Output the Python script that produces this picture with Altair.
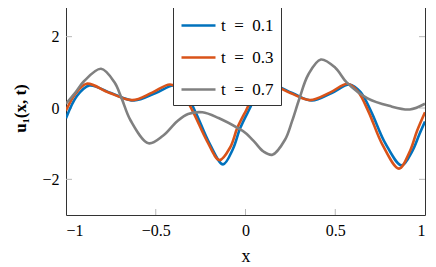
import altair as alt
import pandas as pd

FONT = "Liberation Serif"

# series labels and colours
series_names = ["t = 0.1", "t = 0.3", "t = 0.7"]
series_colors = ["#0072BD", "#D95319", "#808080"]

# t = 0.1 (blue)
x_blue = [-1.0, -0.94, -0.87, -0.75, -0.62, -0.5, -0.40, -0.34, -0.28, -0.20, -0.125,
          -0.07, -0.03, 0.02, 0.065, 0.15, 0.26, 0.37, 0.48, 0.58, 0.64, 0.70, 0.78,
          0.87, 0.93, 0.97, 1.0]
y_blue = [-0.29, 0.33, 0.63, 0.42, 0.21, 0.42, 0.63, 0.45, -0.10, -1.00, -1.58,
          -1.15, -0.57, -0.05, 0.38, 0.63, 0.42, 0.21, 0.42, 0.66, 0.45, -0.10, -1.00,
          -1.61, -1.20, -0.72, -0.38]

# t = 0.3 (orange)
x_orange = [-1.0, -0.95, -0.885, -0.76, -0.63, -0.52, -0.42, -0.36, -0.295, -0.215, -0.145,
            -0.085, -0.045, 0.005, 0.05, 0.135, 0.25, 0.36, 0.47, 0.57, 0.625, 0.685, 0.765,
            0.855, 0.915, 0.955, 1.0]
y_orange = [-0.07, 0.38, 0.68, 0.43, 0.22, 0.43, 0.66, 0.47, -0.08, -0.92, -1.46,
            -1.10, -0.55, -0.05, 0.38, 0.64, 0.42, 0.22, 0.43, 0.68, 0.47, -0.10, -1.05,
            -1.70, -1.22, -0.65, -0.12]

# t = 0.7 (grey)
x_gray = [-1.0, -0.95, -0.90, -0.805, -0.73, -0.69, -0.64, -0.54, -0.46, -0.38, -0.32,
          -0.24, -0.15, -0.04, 0.0, 0.05, 0.10, 0.15, 0.22, 0.26, 0.30, 0.35, 0.42, 0.50,
          0.565, 0.68, 0.80, 0.915, 1.0]
y_gray = [0.12, 0.42, 0.75, 1.10, 0.72, 0.27, -0.35, -0.99, -0.78, -0.37, -0.17,
          -0.12, -0.28, -0.57, -0.70, -0.95, -1.22, -1.31, -0.89, -0.36, 0.26, 0.94, 1.36, 1.13,
          0.71, 0.27, 0.06, -0.04, 0.12]

x_ticks = [-1, -0.5, 0, 0.5, 1]
y_ticks = [-2, 0, 2]

rows = []
for name, xs, ys in zip(series_names, [x_blue, x_orange, x_gray], [y_blue, y_orange, y_gray]):
    for i, (xv, yv) in enumerate(zip(xs, ys)):
        rows.append({"x": xv, "y": yv, "series": name, "i": i})
df = pd.DataFrame(rows)

W, H = 359, 214
TL = 6
TICK_COLOR = "#b8b8b8"

xscale = alt.Scale(domain=[-1, 1], nice=False, zero=False)
yscale = alt.Scale(domain=[-3, 3], nice=False, zero=False)

x_axis = alt.Axis(values=x_ticks, format="~g", ticks=False, domain=False, grid=False,
                  labelFont=FONT, labelFontSize=16, labelColor="#000",
                  labelPadding=7, title="x", titleFont=FONT, titleFontSize=18,
                  titleFontWeight="normal", titleColor="#000", titlePadding=9)
y_axis = alt.Axis(values=y_ticks, format="~g", ticks=False, domain=False, grid=False,
                  labelFont=FONT, labelFontSize=16, labelColor="#000",
                  labelPadding=7, title="u₁(x, t)", titleFont=FONT,
                  titleFontSize=17, titleFontWeight="bold", titleColor="#000",
                  titlePadding=12)

xt = pd.DataFrame({"x": [-0.5, 0, 0.5]})
yt = pd.DataFrame({"y": y_ticks})

top_ticks = alt.Chart(xt).mark_rule(color=TICK_COLOR, strokeWidth=1).encode(
    x=alt.X("x:Q", scale=xscale, axis=x_axis), y=alt.value(0), y2=alt.value(TL))
bot_ticks = alt.Chart(xt).mark_rule(color=TICK_COLOR, strokeWidth=1).encode(
    x=alt.X("x:Q", scale=xscale, axis=x_axis), y=alt.value(H), y2=alt.value(H - TL))
left_ticks = alt.Chart(yt).mark_rule(color=TICK_COLOR, strokeWidth=1).encode(
    y=alt.Y("y:Q", scale=yscale, axis=y_axis), x=alt.value(0), x2=alt.value(TL))
right_ticks = alt.Chart(yt).mark_rule(color=TICK_COLOR, strokeWidth=1).encode(
    y=alt.Y("y:Q", scale=yscale, axis=y_axis), x=alt.value(W), x2=alt.value(W - TL))

lines = alt.Chart(df).mark_line(strokeWidth=2.6, interpolate="catmull-rom", clip=True).encode(
    x=alt.X("x:Q", scale=xscale, axis=x_axis),
    y=alt.Y("y:Q", scale=yscale, axis=y_axis),
    color=alt.Color("series:N", sort=series_names,
                    scale=alt.Scale(domain=series_names, range=series_colors),
                    legend=alt.Legend(title=None, orient="none", legendX=107, legendY=-1,
                                      symbolType="stroke", symbolSize=1156,
                                      symbolStrokeWidth=2.6, labelFont=FONT,
                                      labelFontSize=17, labelColor="#000",
                                      labelExpr="replace(datum.label, / /g, '\u2002')",
                                      strokeColor="#333", fillColor="white",
                                      padding=7, rowPadding=5, labelOffset=4)),
    order="i:Q",
)

chart = alt.layer(top_ticks, bot_ticks, left_ticks, right_ticks, lines).properties(
    width=W, height=H,
    autosize=alt.AutoSizeParams(type="none"),
    padding={"left": 58, "top": -7, "right": 3, "bottom": 52},
).configure_view(stroke="#333", strokeWidth=1)

chart.save("out.html", embed_options={"renderer": "svg", "actions": False})
